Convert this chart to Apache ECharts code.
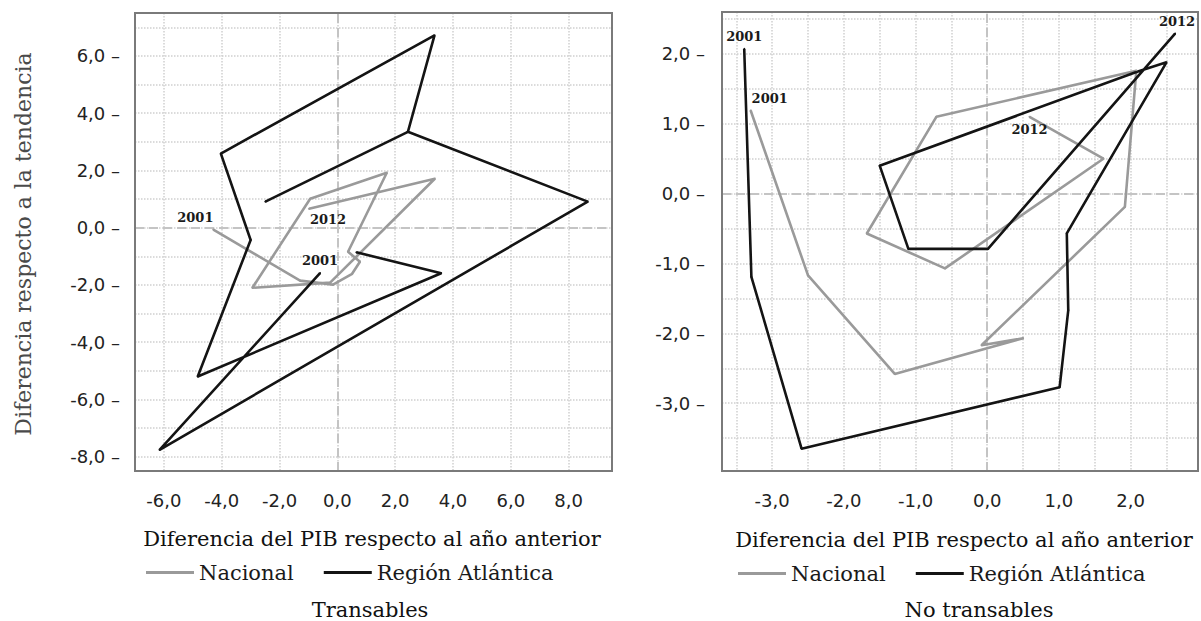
<!DOCTYPE html>
<html>
<head>
<meta charset="utf-8">
<script src="https://cdn.jsdelivr.net/npm/echarts@6/dist/echarts.min.js"></script>
<style>
html,body{margin:0;padding:0;background:#ffffff;}
#chart{width:1201px;height:621px;}
</style>
</head>
<body>
<div id="chart"></div>
<script>
// ---------- DATA ----------
const years = ['2001', '2012'];
const seriesNames = ['Nacional', 'Región Atlántica'];
const panelTitles = ['Transables', 'No transables'];
const xAxisTitle = 'Diferencia del PIB respecto al año anterior';
const yAxisTitle = 'Diferencia respecto a la tendencia';

// Transables (left panel): [GDP change, deviation from trend], 2001..2012
const transNacional = [
  [-4.29, -0.07], [-1.29, -1.85], [-0.15, -1.99], [0.51, -1.61], [0.78, -1.19], [0.37, -0.84],
  [1.71, 1.92], [-0.94, 1.01], [-2.94, -2.10], [-0.25, -1.92], [3.37, 1.71], [-0.98, 0.66]
];
const transAtlantica = [
  [-0.60, -1.59], [-6.15, -7.76], [8.66, 0.91], [2.44, 3.35], [3.36, 6.72],
  [-4.03, 2.59], [-3.00, -0.43], [-4.83, -5.20], [3.59, -1.59], [0.66, -0.86]
];
const transAtlanticaBranch = [[-2.49, 0.91], [2.44, 3.35]];

// No transables (right panel)
const noTransNacional = [
  [-3.30, 1.19], [-2.50, -1.17], [-1.29, -2.58], [0.50, -2.07], [-0.08, -2.17], [1.92, -0.19],
  [2.08, 1.76], [-0.71, 1.10], [-1.68, -0.57], [-0.59, -1.07], [1.62, 0.50], [0.59, 1.10]
];
const noTransAtlantica = [
  [-3.39, 2.07], [-3.29, -1.19], [-2.59, -3.65], [1.01, -2.77], [1.13, -1.67], [1.11, -0.57],
  [2.50, 1.88], [2.08, 1.74], [-1.50, 0.40], [-1.10, -0.79], [0.01, -0.79], [2.62, 2.29]
];

// Tick labels
const leftXTicks = [-6, -4, -2, 0, 2, 4, 6, 8];
const leftYTicks = [-8, -6, -4, -2, 0, 2, 4, 6];
const rightXTicks = [-3, -2, -1, 0, 1, 2];
const rightYTicks = [-3, -2, -1, 0, 1, 2];

// ---------- STYLE ----------
const GRAY = '#9a9a9a';
const BLACK = '#141414';
const SERIF = 'DejaVu Serif';
const SANS = 'DejaVu Sans';
const GRIDS = [
  { left: 135, top: 13, width: 477, height: 458 },
  { left: 722, top: 12, width: 476, height: 459 }
];

function fmt(v) { return (Math.round(v * 10) / 10).toFixed(1).replace('.', ','); }
function tickFormatter(ticks, suffix) {
  return function (v) {
    const r = Math.round(v);
    if (Math.abs(v - r) < 1e-6 && ticks.indexOf(r) >= 0) return fmt(r) + suffix;
    return '';
  };
}

const gridLine = { show: true, lineStyle: { color: '#cfcfcf', type: 'dotted', width: 1.5 } };

function xAxisCfg(gridIndex, min, max, step, ticks) {
  return {
    type: 'value', gridIndex, min, max, minInterval: step, maxInterval: step,
    axisLine: { show: false }, axisTick: { show: false },
    splitLine: gridLine,
    axisLabel: { formatter: tickFormatter(ticks, ''), margin: 20, fontFamily: SANS, fontSize: 18, color: '#222',
      showMinLabel: true, showMaxLabel: true, hideOverlap: false }
  };
}
function yAxisCfg(gridIndex, min, max, step, ticks, margin) {
  return {
    type: 'value', gridIndex, min, max, minInterval: step, maxInterval: step,
    axisLine: { show: false }, axisTick: { show: false },
    splitLine: gridLine,
    axisLabel: { formatter: tickFormatter(ticks, ' \u2013'), margin: margin, fontFamily: SANS, fontSize: 18, color: '#222',
      showMinLabel: true, showMaxLabel: true, hideOverlap: false }
  };
}

function lineSeries(name, data, idx, color, labels, withZero) {
  const items = data.map(function (p, i) {
    const item = { value: p };
    const l = labels ? labels.find(function (o) { return o.index === i; }) : null;
    if (l) {
      item.label = { show: true, formatter: l.text, position: 'inside', offset: l.offset,
        fontFamily: SERIF, fontWeight: 'bold', fontSize: 13, color: '#1a1a1a' };
    }
    return item;
  });
  const s = {
    type: 'line', name: name, xAxisIndex: idx, yAxisIndex: idx, data: items,
    symbol: 'circle', symbolSize: 2, showSymbol: true,
    lineStyle: { color: color, width: 2.6 }, itemStyle: { color: color },
    label: { show: false }, emphasis: { disabled: true }, silent: true, z: 3
  };
  if (withZero) {
    s.markLine = {
      silent: true, symbol: ['none', 'none'], z: 1, animation: false,
      label: { show: false },
      lineStyle: { color: '#c4c4c4', type: [9, 5], width: 2 },
      data: [{ xAxis: 0 }, { yAxis: 0 }]
    };
  }
  return s;
}

const legendBase = {
  data: seriesNames, icon: 'rect', itemWidth: 48, itemHeight: 3, itemGap: 30,
  textStyle: { fontFamily: SERIF, fontSize: 21, color: '#1a1a1a' }, selectedMode: false
};

function textEl(text, x, y, size, color, rot) {
  return {
    type: 'text', x: x, y: y, rotation: rot || 0, silent: true, z: 10,
    style: { text: text, font: size + 'px "' + SERIF + '"', fill: color,
      align: 'center', verticalAlign: 'middle', textAlign: 'center', textVerticalAlign: 'middle' }
  };
}
function frameEl(g) {
  return {
    type: 'rect', silent: true, z: 100,
    shape: { x: g.left, y: g.top, width: g.width, height: g.height },
    style: { fill: 'none', stroke: '#7a7a7a', lineWidth: 2 }
  };
}

const option = {
  animation: false,
  backgroundColor: '#ffffff',
  grid: GRIDS.map(function (g) { return Object.assign({ show: false }, g); }),
  xAxis: [
    xAxisCfg(0, -7, 9.5, 2, leftXTicks),
    xAxisCfg(1, -3.7, 2.94, 0.5, rightXTicks)
  ],
  yAxis: [
    yAxisCfg(0, -8.5, 7.5, 1, leftYTicks, 15),
    yAxisCfg(1, -3.97, 2.6, 0.5, rightYTicks, 17)
  ],
  legend: [
    Object.assign({ left: 141, top: 557 }, legendBase),
    Object.assign({ left: 733, top: 558 }, legendBase)
  ],
  graphic: [
    frameEl(GRIDS[0]),
    frameEl(GRIDS[1]),
    textEl(xAxisTitle, 372, 539, 21, '#111'),
    textEl(xAxisTitle, 964, 540, 21, '#111'),
    textEl(panelTitles[0], 370, 610, 21, '#111'),
    textEl(panelTitles[1], 979, 610, 21, '#111'),
    textEl(yAxisTitle, 23, 244, 22, '#4a4a4a', Math.PI / 2)
  ],
  series: [
    lineSeries(seriesNames[0], transNacional, 0, GRAY,
      [{ index: 0, text: years[0], offset: [-18, -12] }, { index: transNacional.length - 1, text: years[1], offset: [19, 11] }], true),
    lineSeries(seriesNames[1], transAtlantica, 0, BLACK,
      [{ index: 0, text: years[0], offset: [0, -13] }], false),
    lineSeries(seriesNames[1], transAtlanticaBranch, 0, BLACK, null, false),
    lineSeries(seriesNames[0], noTransNacional, 1, GRAY,
      [{ index: 0, text: years[0], offset: [19, -12] }, { index: noTransNacional.length - 1, text: years[1], offset: [0, 13] }], true),
    lineSeries(seriesNames[1], noTransAtlantica, 1, BLACK,
      [{ index: 0, text: years[0], offset: [0, -13] }, { index: noTransAtlantica.length - 1, text: years[1], offset: [2, -12] }], false)
  ]
};

const chart = echarts.init(document.getElementById('chart'), null, { renderer: 'svg', width: 1201, height: 621 });
chart.setOption(option);
</script>
</body>
</html>
